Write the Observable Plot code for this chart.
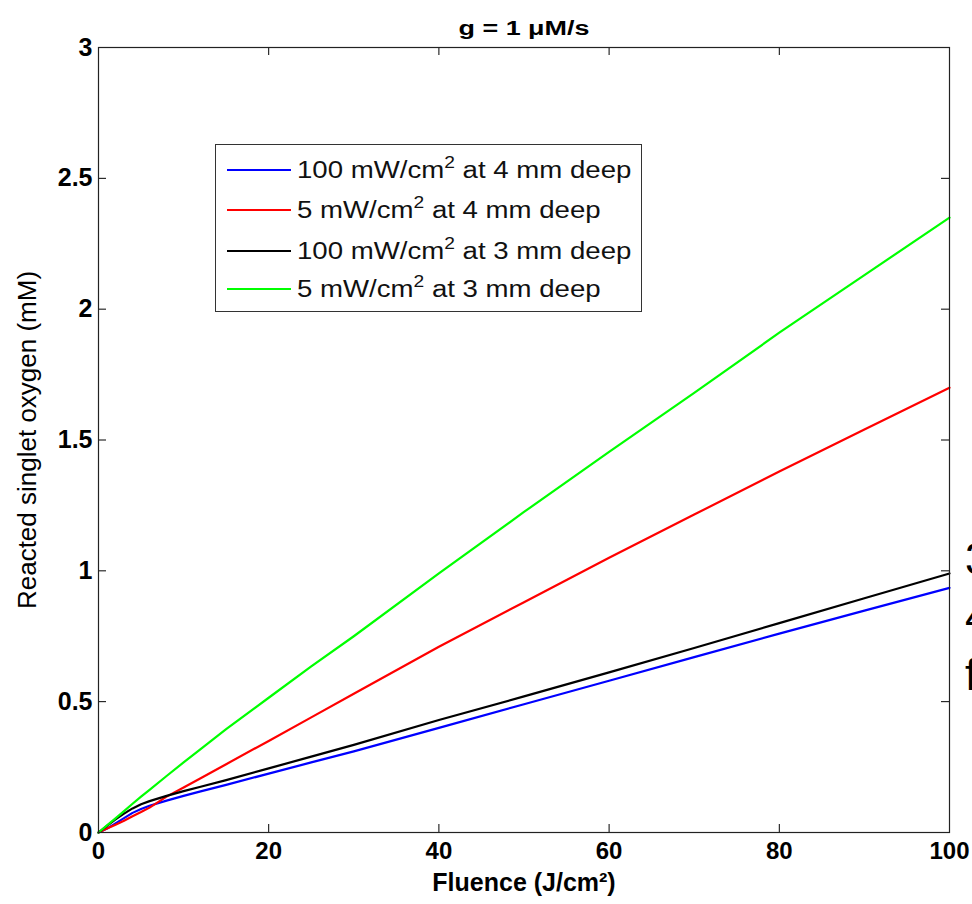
<!DOCTYPE html>
<html>
<head>
<meta charset="utf-8">
<script src="https://cdn.jsdelivr.net/npm/d3@7"></script>
<script src="https://cdn.jsdelivr.net/npm/@observablehq/plot@0.6"></script>
<style>
  html, body { margin: 0; padding: 0; background: #fff; }
  #wrap { position: relative; width: 972px; height: 904px; overflow: hidden; }
  #legend { position: absolute; left: 215px; top: 144px; width: 427px; height: 168px;
    border: 1.5px solid #333; background: #fff; box-sizing: border-box;
    font-family: "Liberation Sans", Arial, sans-serif; font-size: 23px; color: #111; }
  .row { position: absolute; left: 0; height: 30px; display: flex; align-items: center; }
  .sw { width: 64px; height: 2px; margin-left: 11px; margin-right: 6px; }
  .lt { display: inline-block; transform: scaleX(1.2); transform-origin: left center; white-space: nowrap; }
  .lt sup { font-size: 16px; vertical-align: 10px; line-height: 0; }
  #side { position: absolute; left: 965px; top: 530px; font-family: "Liberation Sans", Arial, sans-serif;
    font-size: 44px; line-height: 58px; color: #000; }
</style>
</head>
<body>
<div id="wrap"></div>
<script>
const fluence = [0,1,2,3,4,5,6,8,10,12,15,20,25,30,40,50,60,70,80,90,100];
const blue100at4  = [0,0.015,0.035,0.055,0.075,0.09,0.102,0.122,0.14,0.157,0.182,0.225,0.268,0.31,0.40,0.49,0.58,0.67,0.76,0.848,0.935];
const red5at4     = [0,0.015,0.03,0.045,0.062,0.078,0.095,0.137,0.172,0.207,0.261,0.35,0.44,0.53,0.71,0.88,1.05,1.215,1.38,1.54,1.70];
const black100at3 = [0,0.025,0.05,0.072,0.092,0.108,0.12,0.14,0.158,0.175,0.2,0.245,0.29,0.335,0.43,0.52,0.612,0.705,0.80,0.895,0.99];
const green5at3   = [0,0.027,0.054,0.082,0.11,0.137,0.163,0.216,0.268,0.319,0.395,0.515,0.635,0.75,0.99,1.225,1.455,1.68,1.91,2.13,2.35];
const seriesNames = ["100 mW/cm2 at 4 mm deep","5 mW/cm2 at 4 mm deep","100 mW/cm2 at 3 mm deep","5 mW/cm2 at 3 mm deep"];
const seriesColors = ["#0000ff","#ff0000","#000000","#00ff00"];
const seriesValues = [blue100at4, red5at4, black100at3, green5at3];
const xTicks = [0,20,40,60,80,100];
const yTicks = [0,0.5,1,1.5,2,2.5,3];
const titleText = "g = 1 μM/s";
const xLabel = "Fluence (J/cm²)";
const yLabel = "Reacted singlet oxygen (mM)";

const rows = [];
seriesValues.forEach((vals, i) => {
  fluence.forEach((f, j) => rows.push({series: seriesNames[i], x: f, y: vals[j]}));
});

const W = 972, H = 904, mt = 47, mr = 23, mb = 72, ml = 98;
const ph = H - mt - mb, pw = W - ml - mr;

const chart = Plot.plot({
  width: W, height: H,
  marginTop: mt, marginRight: mr, marginBottom: mb, marginLeft: ml,
  style: {fontFamily: "Liberation Sans, Arial, sans-serif", background: "#fff", overflow: "visible"},
  x: {domain: [0, 100], ticks: xTicks},
  y: {domain: [0, 3], ticks: yTicks},
  color: {domain: seriesNames, range: seriesColors},
  marks: [
    Plot.axisX(xTicks, {anchor: "bottom", tickSize: 0, tickPadding: 9, fontSize: 24, fontWeight: "bold", fill: "#000", label: null, tickFormat: d => String(d)}),
    Plot.axisY(yTicks, {anchor: "left", tickSize: 0, tickPadding: 6, fontSize: 25, fontWeight: "bold", fill: "#000", label: null, tickFormat: d => String(d)}),
    Plot.tickX(xTicks, {x: d => d, insetTop: ph - 8, stroke: "#000"}),
    Plot.tickX(xTicks, {x: d => d, insetBottom: ph - 8, stroke: "#000"}),
    Plot.tickY(yTicks, {y: d => d, insetRight: pw - 8, stroke: "#000"}),
    Plot.tickY(yTicks, {y: d => d, insetLeft: pw - 8, stroke: "#000"}),
    Plot.line(rows, {x: "x", y: "y", z: "series", stroke: "series", strokeWidth: 2.2}),
    Plot.frame({stroke: "#222", strokeWidth: 1.2}),
    Plot.text([titleText], {frameAnchor: "top", dy: -27, text: d => d, fontSize: 20, fontWeight: "bold", fill: "#000"}),
    Plot.text([xLabel], {frameAnchor: "bottom", dy: 58, text: d => d, fontSize: 25, fontWeight: "bold", fill: "#000"}),
    Plot.text([yLabel], {frameAnchor: "left", dx: -71, rotate: -90, textAnchor: "middle", text: d => d, fontSize: 26, fill: "#000"})
  ]
});
// stretch the title horizontally like the reference rendering
d3.select(chart).selectAll("text").filter(function() { return this.textContent === titleText; })
  .attr("textLength", 131).attr("lengthAdjust", "spacingAndGlyphs");

const wrap = document.getElementById("wrap");
wrap.appendChild(chart);

const legend = document.createElement("div");
legend.id = "legend";
const tops = [10, 50, 91, 129];
seriesNames.forEach((name, i) => {
  const row = document.createElement("div");
  row.className = "row";
  row.style.top = tops[i] + "px";
  const sw = document.createElement("div");
  sw.className = "sw";
  sw.style.background = seriesColors[i];
  const lt = document.createElement("span");
  lt.className = "lt";
  lt.innerHTML = name.replace("cm2", "cm<sup>2</sup>");
  row.appendChild(sw); row.appendChild(lt);
  legend.appendChild(row);
});
wrap.appendChild(legend);

const side = document.createElement("div");
side.id = "side";
side.innerHTML = "3<br>4<br>f";
wrap.appendChild(side);
</script>
</body>
</html>
